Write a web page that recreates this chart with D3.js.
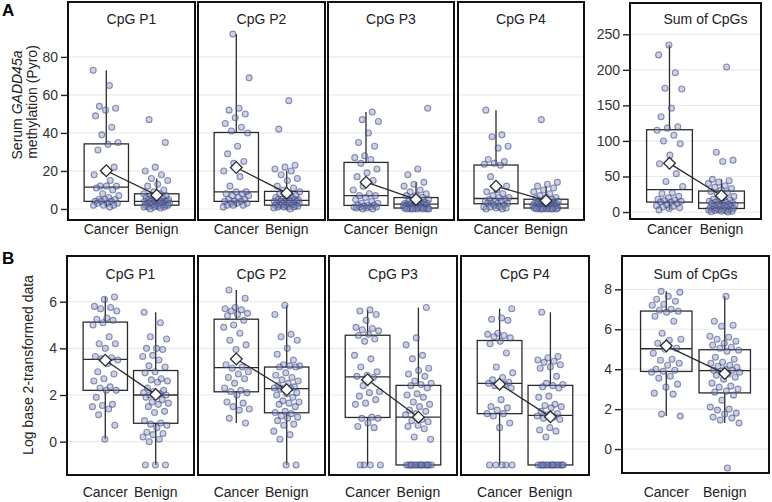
<!DOCTYPE html>
<html><head><meta charset="utf-8">
<script src="https://cdn.jsdelivr.net/npm/d3@7"></script>
<style>body{margin:0;background:#fff} svg{font-family:"Liberation Sans",Arial,Helvetica,sans-serif}</style>
</head><body><svg id="c" width="772" height="502"></svg>
<script>
// ---------- DATA ----------
const groups = ["Cancer", "Benign"];
const panelTitles = ["CpG P1", "CpG P2", "CpG P3", "CpG P4", "Sum of CpGs"];
const ticksA = [0, 20, 40, 60, 80];
const ticksASum = [0, 50, 100, 150, 200, 250];
const ticksB = [0, 2, 4, 6];
const ticksBSum = [0, 2, 4, 6, 8];

// Row A: serum GADD45a methylation (Pyro)
const a1Cancer = [73,65,54,53,52,49,43,39,35,34,31,22,20,18,15,12,12,12,11,10,8,7,6,5,5,5,4,4,4,3,3,3,2,2,2,1];
const a1Benign = [47,35,22,20,18,16,15,13,12,10,9,8,8,7,7,6,6,6,5,5,5,5,4,4,4,4,4,4,3,3,3,3,3,3,3,2,2,2,2,2,2,1.5,1,1,1,1,0.5,0];
const a2Cancer = [92,69,53,52,50,48,45,43,41,40,33,29,25,24,20,17,12,9,9,8,8,7,7,6,5,5,4,4,4,3,3,3,2,2,2,1];
const a2Benign = [57,42,23,22,21,20,18,16,15,12,11,10,9,8,8,7,7,6,6,5,5,5,5,5,4,4,4,4,4,3,3,3,3,3,3,2,2,2,2,2,2,1.5,1,1,1,1,0.5,0];
const a3Cancer = [51,47,46,40,35,33,28,27,26,24,21,19,17,15,12,10,8,7,7,6,5,4,3,3,2,2,2,1.5,1,1,1,1,0.5,0.5,0,0];
const a3Benign = [53,21,18,14,13,12,10,9,8,7,7,6,6,5,4,4,3.5,3,3,3,3,3,3,2.5,2.5,2,2,2,2,2,1.5,1.5,1,1,0.5,0.5,0.5,0.5,0.5,0.5,0.5,0,0,0,0,0,0,0];
const a4Cancer = [52,39,38,33,32,26,25,24,23.5,23,17,12,10,9,8,7,6,6,5,5,4,4,4,3,3,3,3,2,2,1,1,1,0.5,0.5,0,0];
const a4Benign = [47,14,13,12,11,10,9,8,7,6,6,5.5,5,4.5,4,4,3.5,3,3,3,3,3,2.5,2.5,2.5,2,2,2,2,1.5,1.5,1.5,1,1,0.5,0.5,0.5,0.5,0.5,0.5,0.5,0,0,0,0,0,0,0];
const a5Cancer = [235,221,196,174,173,146,134,120,118,115,108,100,96,80,68,54,43,36,27,26,22,20,18,17,16,15,14,14,12,10,9,8,7,6,5,3];
const a5Benign = [204,84,73,71,46,44,42,40,37,35,33,31,29,27,25,22,20,18,17,16,15,14,14,13,13,12,11,10,10,9,8,8,7,6,6,5,5,4,4,3,3,3,2,2,1,1,0.5,0];

// Row B: log base 2-transformed data
const b1Cancer = [6.2,6.1,5.8,5.75,5.7,5.6,5.3,5.25,5.2,5.1,5.0,4.5,4.2,4.2,4.0,3.65,3.6,3.55,3.5,3.35,3.0,2.9,2.7,2.6,2.35,2.3,2.2,2.2,1.9,1.6,1.55,1.5,1.4,1.15,0.7,0.1];
const b1Benign = [5.55,5.1,4.5,4.4,4.0,4.0,3.95,3.7,3.65,3.5,3.25,3.2,3.0,2.95,2.7,2.65,2.6,2.55,2.3,2.2,2.15,2.1,2.05,2.0,2.0,1.95,1.9,1.8,1.7,1.65,1.6,1.5,1.3,1.25,0.9,0.8,0.75,0.7,0.6,0.4,0.35,0.3,0.2,0.1,0.0,-1,-1,-1];
const b2Cancer = [6.5,6.15,5.75,5.7,5.65,5.6,5.5,5.45,5.4,5.2,5.0,4.9,4.65,4.35,4.15,3.95,3.3,3.2,3.15,3.0,2.9,2.75,2.7,2.5,2.3,2.2,2.15,2.1,2.0,1.7,1.65,1.5,1.4,1.35,1.0,0.8];
const b2Benign = [5.85,5.45,4.6,4.5,4.35,4.0,3.75,3.5,3.3,3.25,3.25,3.2,3.2,2.95,2.85,2.75,2.65,2.6,2.5,2.4,2.35,2.3,2.3,2.3,2.25,2.1,2.05,2.0,1.9,1.75,1.7,1.65,1.6,1.5,1.3,1.25,1.2,1.1,1.05,1.0,0.9,0.75,0.7,0.45,0.3,0.1,-1,-1];
const b3Cancer = [5.65,5.6,5.45,5.2,4.9,4.85,4.8,4.75,4.6,4.55,4.4,4.3,3.7,3.55,3.2,3.0,2.85,2.8,2.75,2.4,2.15,2.1,1.95,1.8,1.65,1.6,1.05,1.0,1.0,0.8,0.65,0.6,-1,-1,-1,-1];
const b3Benign = [5.75,4.45,4.15,3.7,3.55,3.15,3.05,2.9,2.8,2.6,2.5,2.45,2.4,2.3,2.05,2.0,1.9,1.7,1.6,1.5,1.35,1.3,1.2,1.15,0.95,0.9,0.85,0.7,0.65,0.55,0.2,0.1,-1,-1,-1,-1,-1,-1,-1,-1,-1,-1,-1,-1,-1,-1,-1,-1];
const b4Cancer = [5.7,5.3,5.25,5.2,4.65,4.6,4.55,4.5,4.45,4.3,4.2,3.8,3.2,2.95,2.75,2.65,2.55,2.5,2.5,2.45,2.4,2.3,1.8,1.5,1.45,1.35,1.2,1.2,1.1,0.8,0.6,-1,-1,-1,-1,-1];
const b4Benign = [5.55,3.65,3.6,3.5,3.45,3.4,3.3,3.2,3.15,2.8,2.5,2.45,2.4,2.35,2.3,1.95,1.9,1.6,1.55,1.5,1.45,1.3,1.2,1.15,1.1,1.05,1.0,0.95,0.6,0.5,0.45,0.2,-1,-1,-1,-1,-1,-1,-1,-1,-1,-1,-1,-1,-1,-1,-1,-1];
const b5Cancer = [7.9,7.85,7.65,7.5,7.4,7.25,7.2,7.0,6.95,6.9,6.85,6.65,6.4,5.8,5.5,5.45,5.3,5.05,5.0,4.8,4.5,4.45,4.3,4.2,4.0,3.95,3.9,3.85,3.65,3.55,3.25,3.1,2.8,2.75,1.75,1.65];
const b5Benign = [7.65,6.4,6.2,6.15,5.65,5.6,5.5,5.4,5.3,5.2,5.1,5.05,4.95,4.9,4.6,4.5,4.35,4.3,4.2,4.15,4.1,4.0,3.95,3.95,3.9,3.85,3.75,3.7,3.6,3.5,3.3,3.15,3.1,3.0,2.9,2.85,2.7,2.45,2.1,2.0,1.95,1.8,1.75,1.6,1.55,1.45,1.3,-0.95];

// ---------- LAYOUT ----------
const svg = d3.select("#c");
const INK = "#2b2b2b";

const panels = [
  // row A
  {x0:68, x1:195, y0:2, y1:220, dom:[-5.8,108.9], ticks:ticksA, axis:true, title:panelTitles[0], ty:24, ly:234, series:[a1Cancer,a1Benign]},
  {x0:198, x1:325, y0:2, y1:220, dom:[-5.8,108.9], ticks:ticksA, axis:false, title:panelTitles[1], ty:24, ly:234, series:[a2Cancer,a2Benign]},
  {x0:328, x1:454, y0:2, y1:220, dom:[-5.8,108.9], ticks:ticksA, axis:false, title:panelTitles[2], ty:24, ly:234, series:[a3Cancer,a3Benign]},
  {x0:458, x1:584, y0:2, y1:220, dom:[-5.8,108.9], ticks:ticksA, axis:false, title:panelTitles[3], ty:24, ly:234, series:[a4Cancer,a4Benign]},
  {x0:630, x1:761, y0:3, y1:219, dom:[-9.8,294], ticks:ticksASum, axis:true, title:panelTitles[4], ty:24, ly:234, tdx:10, series:[a5Cancer,a5Benign]},
  // row B
  {x0:67, x1:194, y0:256, y1:475, dom:[-1.43,7.96], ticks:ticksB, axis:true, title:panelTitles[0], ty:279, ly:497, series:[b1Cancer,b1Benign]},
  {x0:198, x1:325, y0:256, y1:475, dom:[-1.43,7.96], ticks:ticksB, axis:false, title:panelTitles[1], ty:279, ly:497, series:[b2Cancer,b2Benign]},
  {x0:329, x1:457, y0:256, y1:475, dom:[-1.43,7.96], ticks:ticksB, axis:false, title:panelTitles[2], ty:279, ly:497, series:[b3Cancer,b3Benign]},
  {x0:461, x1:589, y0:256, y1:475, dom:[-1.43,7.96], ticks:ticksB, axis:false, title:panelTitles[3], ty:279, ly:497, series:[b4Cancer,b4Benign]},
  {x0:622, x1:769, y0:256, y1:473, dom:[-1.2,9.67], ticks:ticksBSum, axis:true, title:panelTitles[4], ty:279, ly:497, series:[b5Cancer,b5Benign]}
];

function boxStats(vals) {
  const s = vals.slice().sort(d3.ascending);
  const q1 = d3.quantile(s, 0.25), med = d3.quantile(s, 0.5), q3 = d3.quantile(s, 0.75);
  const iqr = q3 - q1;
  const lo = d3.min(s.filter(v => v >= q1 - 1.5 * iqr));
  const hi = d3.max(s.filter(v => v <= q3 + 1.5 * iqr));
  return {q1, med, q3, lo, hi, mean: d3.mean(s)};
}

panels.forEach((p, pi) => {
  const x = d3.scalePoint().domain(groups).range([p.x0 + 1, p.x1 - 1]).padding(0.74);
  const step = x.step();
  const bw = step * 0.88;
  const y = d3.scaleLinear().domain(p.dom).range([p.y1, p.y0]);
  const g = svg.append("g");

  // grid
  g.selectAll("line.grid").data(p.ticks).join("line")
    .attr("x1", p.x0).attr("x2", p.x1)
    .attr("y1", d => y(d)).attr("y2", d => y(d))
    .attr("stroke", "#ebebeb").attr("stroke-width", 1.2);

  const stats = p.series.map(boxStats);

  // boxes
  groups.forEach((grp, gi) => {
    const s = stats[gi], cx = x(grp);
    const bg = g.append("g").attr("stroke", INK).attr("stroke-width", 1.3).attr("fill", "none");
    bg.append("line").attr("x1", cx).attr("x2", cx).attr("y1", y(s.q3)).attr("y2", y(s.hi));
    bg.append("line").attr("x1", cx).attr("x2", cx).attr("y1", y(s.q1)).attr("y2", y(s.lo));
    bg.append("rect").attr("x", cx - bw / 2).attr("width", bw)
      .attr("y", y(s.q3)).attr("height", y(s.q1) - y(s.q3));
    bg.append("line").attr("x1", cx - bw / 2).attr("x2", cx + bw / 2)
      .attr("y1", y(s.med)).attr("y2", y(s.med));
  });

  // jittered points (deterministic low-discrepancy jitter)
  groups.forEach((grp, gi) => {
    const cx = x(grp);
    const seed = (pi * 0.37 + gi * 0.21) % 1;
    g.append("g").selectAll("circle").data(p.series[gi]).join("circle")
      .attr("cx", (d, i) => cx + (((i * 0.6180339887 + seed) % 1) - 0.5) * step * 0.52)
      .attr("cy", d => y(d))
      .attr("r", 3)
      .attr("fill", "rgba(135,145,195,0.42)")
      .attr("stroke", "rgba(55,65,120,0.55)")
      .attr("stroke-width", 1.1);
  });

  // mean line & diamonds
  const line = d3.line().x(d => x(d.g)).y(d => y(d.m));
  const means = groups.map((grp, gi) => ({g: grp, m: stats[gi].mean}));
  g.append("path").datum(means).attr("d", line)
    .attr("fill", "none").attr("stroke", INK).attr("stroke-width", 1.3);
  g.selectAll("path.dia").data(means).join("path")
    .attr("d", d3.symbol(d3.symbolSquare, 68))
    .attr("transform", d => `translate(${x(d.g)},${y(d.m)}) rotate(45)`)
    .attr("fill", "#fff").attr("stroke", INK).attr("stroke-width", 1.3);

  // frame
  g.append("rect").attr("x", p.x0).attr("y", p.y0)
    .attr("width", p.x1 - p.x0).attr("height", p.y1 - p.y0)
    .attr("fill", "none").attr("stroke", "#111").attr("stroke-width", 2);

  // title
  g.append("text").attr("x", (p.x0 + p.x1) / 2 + (p.tdx || 0)).attr("y", p.ty)
    .attr("text-anchor", "middle").attr("font-size", 14).attr("fill", "#222").text(p.title);

  // x labels
  g.selectAll("text.xl").data(groups).join("text")
    .attr("x", d => x(d)).attr("y", p.ly)
    .attr("text-anchor", "middle").attr("font-size", 14).attr("fill", "#222").text(d => d);

  // y axis
  if (p.axis) {
    const ax = g.append("g").attr("transform", `translate(${p.x0 - 1},0)`)
      .call(d3.axisLeft(y).tickValues(p.ticks).tickSize(6).tickPadding(3));
    ax.select(".domain").remove();
    ax.selectAll("line").attr("stroke", "#222").attr("stroke-width", 1.4);
    ax.selectAll("text").attr("font-size", 14).attr("fill", "#333")
      .attr("font-family", '"Liberation Sans",Arial,sans-serif');
  }
});

// axis titles
const t1 = svg.append("text").attr("transform", "translate(17,105) rotate(-90)")
  .attr("text-anchor", "middle").attr("dy", "0.35em").attr("font-size", 14).attr("fill", "#222");
t1.append("tspan").text("Serum ");
t1.append("tspan").attr("font-style", "italic").text("GADD45a");
svg.append("text").attr("transform", "translate(32,102) rotate(-90)")
  .attr("text-anchor", "middle").attr("dy", "0.35em").attr("font-size", 14).attr("fill", "#222")
  .text("methylation (Pyro)");
svg.append("text").attr("transform", "translate(28,365) rotate(-90)")
  .attr("text-anchor", "middle").attr("dy", "0.35em").attr("font-size", 14).attr("fill", "#222")
  .text("Log base 2-transformed data");

// panel letters
svg.append("text").attr("x", 2).attr("y", 16).attr("font-size", 17).attr("font-weight", "bold").text("A");
svg.append("text").attr("x", 2).attr("y", 264).attr("font-size", 17).attr("font-weight", "bold").text("B");
</script></body></html>
